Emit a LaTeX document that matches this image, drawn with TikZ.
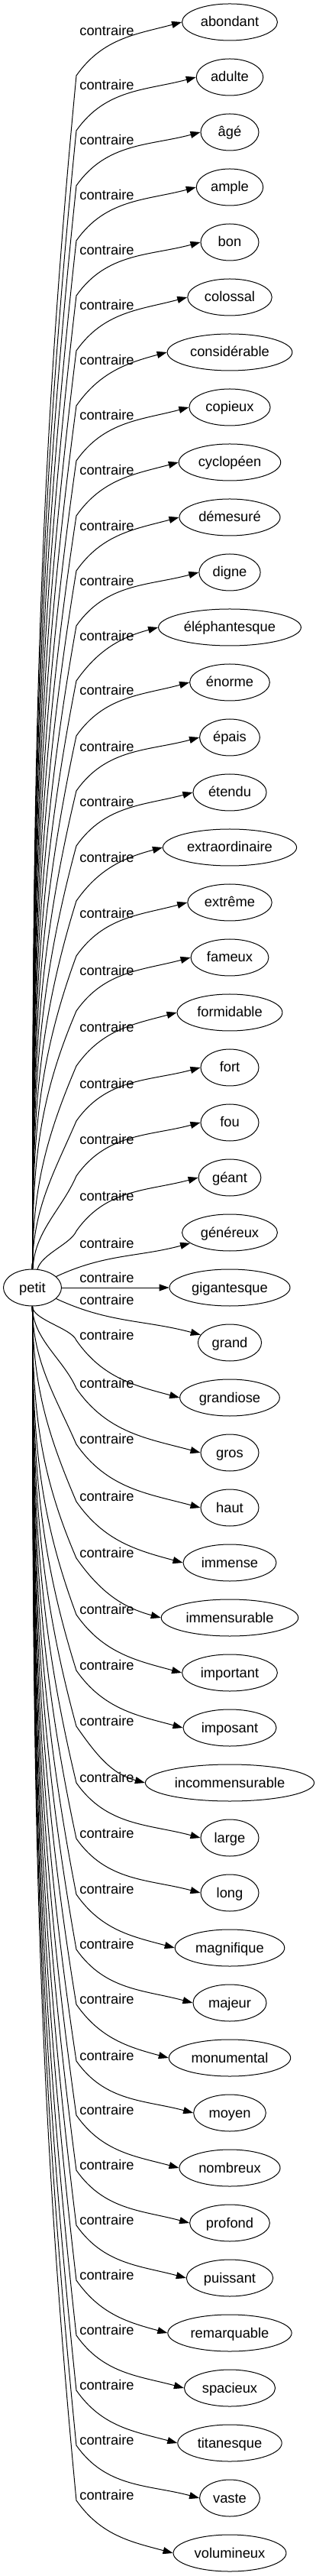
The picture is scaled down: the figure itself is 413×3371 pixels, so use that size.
\documentclass[tikz,border=0pt]{standalone}
\usepackage{fontspec}
\setmainfont{Liberation Sans}
\usepackage{tikz}
\usetikzlibrary{shapes.geometric,arrows.meta}

\begin{document}
\begin{tikzpicture}[x=1pt,y=1pt,
    font=\fontsize{18.3}{22}\selectfont,
    wordnode/.style={draw,ellipse,line width=1pt,minimum width=76pt,minimum height=48pt,inner xsep=6pt,inner ysep=2pt,text height=14pt,text depth=2pt},
    edgelabel/.style={anchor=base,inner sep=0pt},
    antonym/.style={line width=1pt,-{Triangle[length=13pt,width=9pt]}}]
        \useasboundingbox (-42.5,-1686) rectangle (370.5,1685);
        % the word
        \node[wordnode] (petit) at (0,0) {petit};
        % its contraries
        \node[wordnode] (abondant) at (258.5,1656) {abondant};
        \node[wordnode] (adulte) at (258.5,1584) {adulte};
        \node[wordnode] (age) at (258.5,1512) {âgé};
        \node[wordnode] (ample) at (258.5,1440) {ample};
        \node[wordnode] (bon) at (258.5,1368) {bon};
        \node[wordnode] (colossal) at (258.5,1296) {colossal};
        \node[wordnode] (considerable) at (258.5,1224) {considérable};
        \node[wordnode] (copieux) at (258.5,1152) {copieux};
        \node[wordnode] (cyclopeen) at (258.5,1080) {cyclopéen};
        \node[wordnode] (demesure) at (258.5,1008) {démesuré};
        \node[wordnode] (digne) at (258.5,936) {digne};
        \node[wordnode] (elephantesque) at (258.5,864) {éléphantesque};
        \node[wordnode] (enorme) at (258.5,792) {énorme};
        \node[wordnode] (epais) at (258.5,720) {épais};
        \node[wordnode] (etendu) at (258.5,648) {étendu};
        \node[wordnode] (extraordinaire) at (258.5,576) {extraordinaire};
        \node[wordnode] (extreme) at (258.5,504) {extrême};
        \node[wordnode] (fameux) at (258.5,432) {fameux};
        \node[wordnode] (formidable) at (258.5,360) {formidable};
        \node[wordnode] (fort) at (258.5,288) {fort};
        \node[wordnode] (fou) at (258.5,216) {fou};
        \node[wordnode] (geant) at (258.5,144) {géant};
        \node[wordnode] (genereux) at (258.5,72) {généreux};
        \node[wordnode] (gigantesque) at (258.5,0) {gigantesque};
        \node[wordnode] (grand) at (258.5,-72) {grand};
        \node[wordnode] (grandiose) at (258.5,-144) {grandiose};
        \node[wordnode] (gros) at (258.5,-216) {gros};
        \node[wordnode] (haut) at (258.5,-288) {haut};
        \node[wordnode] (immense) at (258.5,-360) {immense};
        \node[wordnode] (immensurable) at (258.5,-432) {immensurable};
        \node[wordnode] (important) at (258.5,-504) {important};
        \node[wordnode] (imposant) at (258.5,-576) {imposant};
        \node[wordnode] (incommensurable) at (258.5,-648) {incommensurable};
        \node[wordnode] (large) at (258.5,-720) {large};
        \node[wordnode] (long) at (258.5,-792) {long};
        \node[wordnode] (magnifique) at (258.5,-864) {magnifique};
        \node[wordnode] (majeur) at (258.5,-936) {majeur};
        \node[wordnode] (monumental) at (258.5,-1008) {monumental};
        \node[wordnode] (moyen) at (258.5,-1080) {moyen};
        \node[wordnode] (nombreux) at (258.5,-1152) {nombreux};
        \node[wordnode] (profond) at (258.5,-1224) {profond};
        \node[wordnode] (puissant) at (258.5,-1296) {puissant};
        \node[wordnode] (remarquable) at (258.5,-1368) {remarquable};
        \node[wordnode] (spacieux) at (258.5,-1440) {spacieux};
        \node[wordnode] (titanesque) at (258.5,-1512) {titanesque};
        \node[wordnode] (vaste) at (258.5,-1584) {vaste};
        \node[wordnode] (volumineux) at (258.5,-1656) {volumineux};
        % edge labels
        \node[edgelabel] (lab0) at (97.5,1638) {contraire};
        \node[edgelabel] (lab1) at (97.5,1567) {contraire};
        \node[edgelabel] (lab2) at (97.5,1495) {contraire};
        \node[edgelabel] (lab3) at (97.5,1423) {contraire};
        \node[edgelabel] (lab4) at (97.5,1351) {contraire};
        \node[edgelabel] (lab5) at (97.5,1279) {contraire};
        \node[edgelabel] (lab6) at (97.5,1207) {contraire};
        \node[edgelabel] (lab7) at (97.5,1135) {contraire};
        \node[edgelabel] (lab8) at (97.5,1063) {contraire};
        \node[edgelabel] (lab9) at (97.5,990) {contraire};
        \node[edgelabel] (lab10) at (97.5,918) {contraire};
        \node[edgelabel] (lab11) at (97.5,846) {contraire};
        \node[edgelabel] (lab12) at (97.5,775) {contraire};
        \node[edgelabel] (lab13) at (97.5,701) {contraire};
        \node[edgelabel] (lab14) at (97.5,629) {contraire};
        \node[edgelabel] (lab15) at (97.5,556) {contraire};
        \node[edgelabel] (lab16) at (97.5,483) {contraire};
        \node[edgelabel] (lab17) at (97.5,408) {contraire};
        \node[edgelabel] (lab18) at (97.5,334) {contraire};
        \node[edgelabel] (lab19) at (97.5,260) {contraire};
        \node[edgelabel] (lab20) at (97.5,187) {contraire};
        \node[edgelabel] (lab21) at (97.5,114) {contraire};
        \node[edgelabel] (lab22) at (97.5,52) {contraire};
        \node[edgelabel] (lab23) at (97.5,7) {contraire};
        \node[edgelabel] (lab24) at (97.5,-22) {contraire};
        \node[edgelabel] (lab25) at (97.5,-68) {contraire};
        \node[edgelabel] (lab26) at (97.5,-131) {contraire};
        \node[edgelabel] (lab27) at (97.5,-204) {contraire};
        \node[edgelabel] (lab28) at (97.5,-279) {contraire};
        \node[edgelabel] (lab29) at (97.5,-353) {contraire};
        \node[edgelabel] (lab30) at (97.5,-427) {contraire};
        \node[edgelabel] (lab31) at (97.5,-500) {contraire};
        \node[edgelabel] (lab32) at (97.5,-573) {contraire};
        \node[edgelabel] (lab33) at (97.5,-647) {contraire};
        \node[edgelabel] (lab34) at (97.5,-720) {contraire};
        \node[edgelabel] (lab35) at (97.5,-793) {contraire};
        \node[edgelabel] (lab36) at (97.5,-865) {contraire};
        \node[edgelabel] (lab37) at (97.5,-937) {contraire};
        \node[edgelabel] (lab38) at (97.5,-1011) {contraire};
        \node[edgelabel] (lab39) at (97.5,-1082) {contraire};
        \node[edgelabel] (lab40) at (97.5,-1154) {contraire};
        \node[edgelabel] (lab41) at (97.5,-1226) {contraire};
        \node[edgelabel] (lab42) at (97.5,-1298) {contraire};
        \node[edgelabel] (lab43) at (97.5,-1370) {contraire};
        \node[edgelabel] (lab44) at (97.5,-1442) {contraire};
        \node[edgelabel] (lab45) at (97.5,-1514) {contraire};
        \node[edgelabel] (lab46) at (97.5,-1586) {contraire};
        % edges going up
        \draw[antonym] (petit) .. controls (0,649) and (5,1039) .. (57.5,1586) to[out=55,in=195] (abondant.west);
        \draw[antonym] (petit) .. controls (0,620) and (5,993) .. (57.5,1514) to[out=55,in=195] (adulte.west);
        \draw[antonym] (petit) .. controls (0,591) and (5,946) .. (57.5,1442) to[out=55,in=195] (age.west);
        \draw[antonym] (petit) .. controls (0,562) and (5,899) .. (57.5,1370) to[out=55,in=195] (ample.west);
        \draw[antonym] (petit) .. controls (0,534) and (5,852) .. (57.5,1298) to[out=55,in=195] (bon.west);
        \draw[antonym] (petit) .. controls (0,505) and (5,805) .. (57.5,1226) to[out=55,in=195] (colossal.west);
        \draw[antonym] (petit) .. controls (0,476) and (5,759) .. (57.5,1154) to[out=55,in=195] (considerable.west);
        \draw[antonym] (petit) .. controls (0,447) and (5,712) .. (57.5,1082) to[out=55,in=195] (copieux.west);
        \draw[antonym] (petit) .. controls (0,418) and (5,665) .. (57.5,1010) to[out=55,in=195] (cyclopeen.west);
        \draw[antonym] (petit) .. controls (0,390) and (5,618) .. (57.5,938) to[out=55,in=195] (demesure.west);
        \draw[antonym] (petit) .. controls (0,361) and (5,571) .. (57.5,866) to[out=55,in=195] (digne.west);
        \draw[antonym] (petit) .. controls (0,332) and (5,525) .. (57.5,794) to[out=55,in=195] (elephantesque.west);
        \draw[antonym] (petit) .. controls (0,303) and (5,478) .. (57.5,722) to[out=55,in=195] (enorme.west);
        \draw[antonym] (petit) .. controls (0,274) and (5,431) .. (57.5,650) to[out=55,in=195] (epais.west);
        \draw[antonym] (petit) .. controls (0,246) and (5,384) .. (57.5,578) to[out=55,in=195] (etendu.west);
        \draw[antonym] (petit) .. controls (0,217) and (5,337) .. (57.5,506) to[out=55,in=195] (extraordinaire.west);
        \draw[antonym] (petit) .. controls (0,188) and (5,291) .. (57.5,434) to[out=55,in=195] (extreme.west);
        \draw[antonym] (petit) .. controls (0,159) and (7,244) .. (57.5,362) to[out=55,in=195] (fameux.west);
        \draw[antonym] (petit) .. controls (0,130) and (18,197) .. (57.5,290) to[out=55,in=195] (formidable.west);
        \draw[antonym] (petit) .. controls (0,102) and (28,150) .. (57.5,218) to[out=55,in=195] (fort.west);
        \draw[antonym] (petit) .. controls (2,73) and (39,103) .. (57.5,146) to[out=55,in=195] (fou.west);
        \draw[antonym] (petit) .. controls (12,44) and (50,57) .. (57.5,74) to[out=55,in=195] (geant.west);
        % the three in the middle
        \draw[antonym] (petit) to[out=25,in=195] (genereux.195);
        \draw[antonym] (petit) -- (gigantesque);
        \draw[antonym] (petit) to[out=-25,in=165] (grand.165);
        % edges going down
        \draw[antonym] (petit) .. controls (0,-42) and (51,-53) .. (57.5,-69) to[out=-55,in=165] (grandiose.west);
        \draw[antonym] (petit) .. controls (0,-67) and (41,-94) .. (57.5,-132) to[out=-55,in=165] (gros.west);
        \draw[antonym] (petit) .. controls (0,-96) and (30,-142) .. (57.5,-205) to[out=-55,in=165] (haut.west);
        \draw[antonym] (petit) .. controls (0,-126) and (19,-190) .. (57.5,-280) to[out=-55,in=165] (immense.west);
        \draw[antonym] (petit) .. controls (0,-156) and (8,-239) .. (57.5,-354) to[out=-55,in=165] (immensurable.west);
        \draw[antonym] (petit) .. controls (0,-186) and (5,-287) .. (57.5,-428) to[out=-55,in=165] (important.west);
        \draw[antonym] (petit) .. controls (0,-215) and (5,-334) .. (57.5,-501) to[out=-55,in=165] (imposant.west);
        \draw[antonym] (petit) .. controls (0,-244) and (5,-382) .. (57.5,-574) to[out=-55,in=165] (incommensurable.west);
        \draw[antonym] (petit) .. controls (0,-274) and (5,-430) .. (57.5,-648) to[out=-55,in=165] (large.west);
        \draw[antonym] (petit) .. controls (0,-303) and (5,-477) .. (57.5,-721) to[out=-55,in=165] (long.west);
        \draw[antonym] (petit) .. controls (0,-332) and (5,-525) .. (57.5,-794) to[out=-55,in=165] (magnifique.west);
        \draw[antonym] (petit) .. controls (0,-361) and (5,-571) .. (57.5,-866) to[out=-55,in=165] (majeur.west);
        \draw[antonym] (petit) .. controls (0,-390) and (5,-618) .. (57.5,-938) to[out=-55,in=165] (monumental.west);
        \draw[antonym] (petit) .. controls (0,-419) and (5,-666) .. (57.5,-1012) to[out=-55,in=165] (moyen.west);
        \draw[antonym] (petit) .. controls (0,-448) and (5,-712) .. (57.5,-1083) to[out=-55,in=165] (nombreux.west);
        \draw[antonym] (petit) .. controls (0,-476) and (5,-759) .. (57.5,-1155) to[out=-55,in=165] (profond.west);
        \draw[antonym] (petit) .. controls (0,-505) and (5,-806) .. (57.5,-1227) to[out=-55,in=165] (puissant.west);
        \draw[antonym] (petit) .. controls (0,-534) and (5,-853) .. (57.5,-1299) to[out=-55,in=165] (remarquable.west);
        \draw[antonym] (petit) .. controls (0,-563) and (5,-900) .. (57.5,-1371) to[out=-55,in=165] (spacieux.west);
        \draw[antonym] (petit) .. controls (0,-592) and (5,-946) .. (57.5,-1443) to[out=-55,in=165] (titanesque.west);
        \draw[antonym] (petit) .. controls (0,-620) and (5,-993) .. (57.5,-1515) to[out=-55,in=165] (vaste.west);
        \draw[antonym] (petit) .. controls (0,-649) and (5,-1040) .. (57.5,-1587) to[out=-55,in=165] (volumineux.west);
\end{tikzpicture}
\end{document}
